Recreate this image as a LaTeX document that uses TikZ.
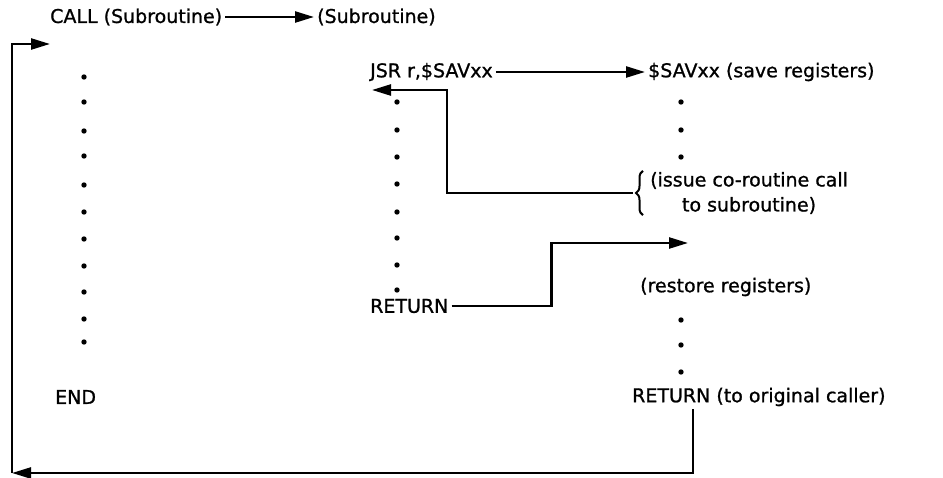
\documentclass[tikz,border=0pt]{standalone}
\usepackage{fontspec}
\setmainfont[FakeBold=1]{DejaVu Sans}
\usetikzlibrary{arrows.meta,calc,decorations.pathreplacing}

\begin{document}
\begin{tikzpicture}[x=1pt,y=-1pt,
    lbl/.style={anchor=west, inner sep=3pt, font=\fontsize{19}{25}\selectfont},
    wire/.style={line width=2.4pt},
    arr/.style={wire, -{Triangle[length=19pt,width=11pt]}},
    brc/.style={line width=2pt, decorate, decoration={brace, amplitude=7pt}}]
  \useasboundingbox (0,0) rectangle (943,478);
  % labels
  \node[lbl] (call) at (47,17) {CALL (Subroutine)};
  \node[lbl] (sub) at (314,17) {(Subroutine)};
  \node[lbl] (jsr) at (367,72) {JSR r,\$SAVxx};
  \node[lbl] (sav) at (645,72) {\$SAVxx (save registers)};
  \node[lbl, align=center] (issue) at (647,193) {(issue co-routine call\\to subroutine)};
  \node[lbl] (rtn) at (367,306) {RETURN};
  \node[lbl] (restore) at (637,287) {(restore registers)};
  \node[lbl] (end) at (52,397) {END};
  \node[lbl] (rtnb) at (629,397) {RETURN (to original caller)};
  % free ends
  \coordinate (entry) at (50,44);
  \coordinate (corner) at (12,473);
  \coordinate (jback) at (372,90);
  \coordinate (resume) at (688,243);
  \coordinate (cotip) at ([xshift=-14pt]issue.west);
  % dotted code
  \foreach \y in {77,102,131,156,185,212,239,266,292,319,342}
    \fill (84,\y) circle (2.7);
  \foreach \y in {102,130,157,184,212,238,265,290}
    \fill (397,\y) circle (2.7);
  \foreach \y in {102,130,157,320,345,372}
    \fill (681,\y) circle (2.7);
  \draw[brc] ([xshift=-4pt,yshift=2pt]issue.south west) -- ([xshift=-4pt,yshift=-2pt]issue.north west);
  % flow
  \draw[arr] (call) -- (sub);
  \draw[arr] (jsr) -- (sav);
  \draw[arr] (cotip) -| ($(jback)+(75,0)$) -- (jback);
  \draw[arr] (rtn.east) -- ++(100,0) |- (resume);
  \draw[arr] ([xshift=64pt]rtnb.south west) |- (corner);
  \draw[arr] (corner) |- (entry);
\end{tikzpicture}
\end{document}
